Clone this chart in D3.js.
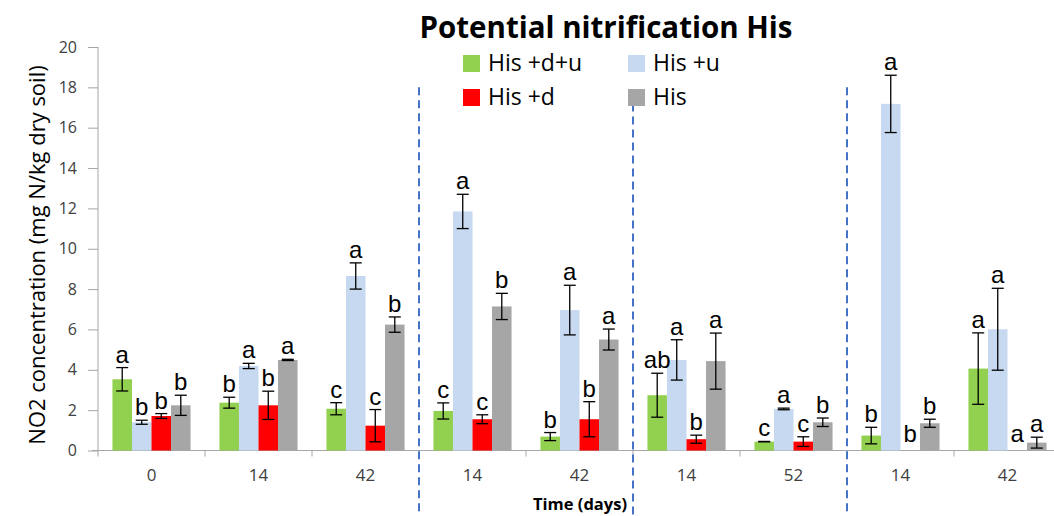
<!DOCTYPE html>
<html>
<head>
<meta charset="utf-8">
<script src="https://cdn.jsdelivr.net/npm/d3@7"></script>
<style>
  html, body { margin: 0; padding: 0; background: #fff; }
  svg { display: block; }
</style>
</head>
<body>
<svg id="chart" width="1054" height="516"></svg>
<script>
// Sampling times (days) for each treatment block
const timeLabels = ["0", "14", "42", "14", "42", "14", "52", "14", "42"];

const seriesNames = ["His +d+u", "His +u", "His +d", "His"];
const seriesColors = ["#92D050", "#C6D9F0", "#FF0000", "#A6A6A6"];

// Mean NO2 concentration (mg N/kg dry soil)
const hisDU = [3.53, 2.37, 2.07, 1.96, 0.69, 2.74, 0.44, 0.74, 4.06];
const hisU  = [1.40, 4.19, 8.65, 11.85, 6.96, 4.49, 2.06, 17.18, 6.01];
const hisD  = [1.71, 2.24, 1.23, 1.55, 1.55, 0.56, 0.44, 0.00, 0.00];
const his   = [2.24, 4.49, 6.24, 7.14, 5.50, 4.43, 1.40, 1.35, 0.39];

// Standard errors
const errDU = [0.58, 0.27, 0.30, 0.40, 0.20, 1.09, 0.01, 0.41, 1.77];
const errU  = [0.10, 0.13, 0.65, 0.85, 1.23, 1.00, 0.04, 1.42, 2.03];
const errD  = [0.12, 0.70, 0.80, 0.22, 0.87, 0.20, 0.24, 0.00, 0.00];
const errH  = [0.50, 0.03, 0.38, 0.65, 0.52, 1.39, 0.21, 0.20, 0.27];

// Significance letters
const letDU = ["a", "b", "c", "c", "b", "ab", "c", "b", "a"];
const letU  = ["b", "a", "a", "a", "a", "a", "a", "a", "a"];
const letD  = ["b", "b", "c", "c", "b", "b", "c", "b", "a"];
const letH  = ["b", "a", "b", "b", "a", "a", "b", "b", "a"];

const yTicks = [0, 2, 4, 6, 8, 10, 12, 14, 16, 18, 20];

const seriesValues = [hisDU, hisU, hisD, his];
const seriesErrors = [errDU, errU, errD, errH];
const seriesLetters = [letDU, letU, letD, letH];

const svg = d3.select("#chart");
const uiFont = "'Open Sans', 'Noto Sans', sans-serif";
const arialLike = "'Liberation Sans', Arial, sans-serif";

const x0 = d3.scaleBand()
  .domain(d3.range(timeLabels.length))
  .range([98, 1061])
  .paddingInner(0)
  .paddingOuter(0);

const x1 = d3.scaleBand()
  .domain(d3.range(seriesNames.length))
  .range([0, x0.bandwidth()])
  .paddingInner(0)
  .paddingOuter(0.74);

const y = d3.scaleLinear().domain([0, 20]).range([450.5, 47]);

// Flattened records for the bars
const records = [];
timeLabels.forEach((t, gi) => {
  seriesNames.forEach((s, si) => {
    records.push({
      g: gi, s: si,
      v: seriesValues[si][gi],
      e: seriesErrors[si][gi],
      l: seriesLetters[si][gi]
    });
  });
});

// Y axis
const yAxis = d3.axisLeft(y).tickValues(yTicks).tickSize(10).tickPadding(11);
const yG = svg.append("g").attr("transform", "translate(98,0)").call(yAxis);
yG.select(".domain").attr("stroke", "#A6A6A6").attr("d", `M0,${y(0)}V${y(20)}`);
yG.selectAll(".tick line").attr("stroke", "#A6A6A6");
yG.selectAll(".tick text")
  .attr("font-family", uiFont).attr("font-size", 16).attr("fill", "#404040");

// X axis: labels at group centers, tick marks at group boundaries
const xAxis = d3.axisBottom(x0).tickSize(0).tickPadding(18)
  .tickFormat(i => timeLabels[i]);
const xG = svg.append("g").attr("transform", `translate(0,${y(0)})`).call(xAxis);
xG.select(".domain").attr("stroke", "#A6A6A6").attr("d", `M92,0H1061`);
xG.selectAll(".tick text")
  .attr("font-family", uiFont).attr("font-size", 17).attr("fill", "#404040");
xG.selectAll(".bound")
  .data(d3.range(timeLabels.length + 1))
  .join("line")
  .attr("class", "bound")
  .attr("x1", i => x0.range()[0] + i * x0.step())
  .attr("x2", i => x0.range()[0] + i * x0.step())
  .attr("y1", 0).attr("y2", 6)
  .attr("stroke", "#A6A6A6");

// Bars
svg.append("g").selectAll("rect")
  .data(records)
  .join("rect")
  .attr("x", d => x0(d.g) + x1(d.s))
  .attr("width", x1.bandwidth())
  .attr("y", d => y(d.v))
  .attr("height", d => y(0) - y(d.v))
  .attr("fill", d => seriesColors[d.s]);

// Error bars
const eb = svg.append("g").attr("stroke", "#000").attr("stroke-width", 1.3);
records.filter(d => d.e > 0).forEach(d => {
  const cx = x0(d.g) + x1(d.s) + x1.bandwidth() / 2;
  const yt = y(d.v + d.e), yb = y(Math.max(0, d.v - d.e));
  eb.append("line").attr("x1", cx).attr("x2", cx).attr("y1", yt).attr("y2", yb);
  eb.append("line").attr("x1", cx - 6).attr("x2", cx + 6).attr("y1", yt).attr("y2", yt);
  eb.append("line").attr("x1", cx - 6).attr("x2", cx + 6).attr("y1", yb).attr("y2", yb);
});

// Significance letters
svg.append("g").selectAll("text")
  .data(records)
  .join("text")
  .attr("x", d => x0(d.g) + x1(d.s) + x1.bandwidth() / 2)
  .attr("y", d => y(d.v + d.e) - (d.e > 0 ? 5 : 9))
  .attr("text-anchor", "middle")
  .attr("font-family", arialLike)
  .attr("font-size", 24)
  .attr("fill", "#000")
  .text(d => d.l);

// Dashed dividers between treatment blocks
const dividers = [{ after: 2, top: 18.0 }, { after: 4, top: 17.2 }, { after: 6, top: 18.0 }];
svg.append("g").selectAll("line")
  .data(dividers)
  .join("line")
  .attr("x1", d => x0(d.after) + x0.step())
  .attr("x2", d => x0(d.after) + x0.step())
  .attr("y1", d => y(d.top))
  .attr("y2", 516)
  .attr("stroke", "#4472C4")
  .attr("stroke-width", 2)
  .attr("stroke-dasharray", "8,5");

// Title
svg.append("text")
  .attr("x", 606).attr("y", 38)
  .attr("text-anchor", "middle")
  .attr("font-family", uiFont)
  .attr("font-weight", "bold")
  .attr("font-size", 29.5)
  .attr("fill", "#000")
  .text("Potential nitrification His");

// Legend (2 x 2)
const legend = svg.append("g");
seriesNames.forEach((name, i) => {
  const col = i % 2, row = Math.floor(i / 2);
  const lx = 463 + col * 165, ly = 55 + row * 34;
  legend.append("rect")
    .attr("x", lx).attr("y", ly).attr("width", 17).attr("height", 17)
    .attr("fill", seriesColors[i]);
  legend.append("text")
    .attr("x", lx + 25).attr("y", ly + 16)
    .attr("font-family", uiFont)
    .attr("font-size", 23)
    .attr("fill", "#000")
    .text(name);
});

// Axis titles
svg.append("text")
  .attr("transform", "translate(45,255) rotate(-90)")
  .attr("text-anchor", "middle")
  .attr("font-family", uiFont)
  .attr("font-size", 22)
  .attr("fill", "#000")
  .text("NO2 concentration (mg N/kg dry soil)");

svg.append("text")
  .attr("x", 580).attr("y", 510)
  .attr("text-anchor", "middle")
  .attr("font-family", uiFont)
  .attr("font-weight", "bold")
  .attr("font-size", 16.5)
  .attr("fill", "#000")
  .text("Time (days)");
</script>
</body>
</html>
